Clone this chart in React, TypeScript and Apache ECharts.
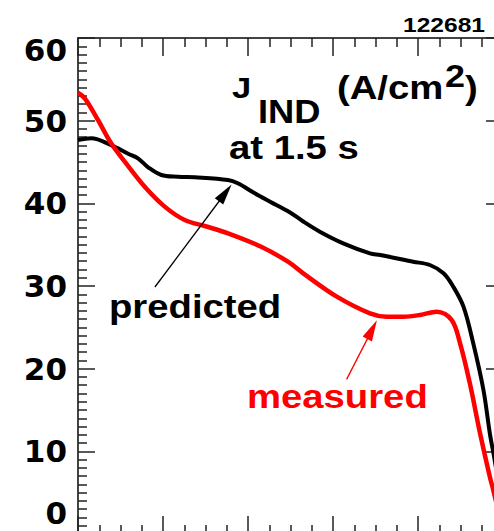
import React, { useEffect, useRef } from "react";
import * as echarts from "echarts";

// normalized radius (x) and current density J_IND (A/cm^2)
const rhoPredicted = [0.0, 0.031, 0.078, 0.118, 0.141, 0.165, 0.196, 0.235, 0.275, 0.353, 0.376, 0.416, 0.452, 0.499, 0.53, 0.569, 0.624, 0.687, 0.711, 0.789, 0.828, 0.86, 0.883, 0.907, 0.93, 0.954, 0.969, 0.979, 1.0];
const jPredicted = [47.66, 47.87, 47.05, 46.0, 45.45, 44.36, 43.43, 43.22, 43.15, 42.82, 42.42, 41.21, 40.2, 38.9, 37.8, 36.57, 35.16, 33.95, 33.75, 32.94, 32.54, 31.54, 29.92, 27.5, 23.07, 17.42, 12.18, 9.35, 2.9];

const rhoMeasured = [0.0, 0.016, 0.047, 0.078, 0.11, 0.157, 0.204, 0.251, 0.298, 0.353, 0.431, 0.494, 0.53, 0.609, 0.687, 0.726, 0.765, 0.805, 0.844, 0.879, 0.899, 0.922, 0.946, 0.969, 0.979, 1.0];
const jMeasured = [53.38, 52.7, 50.08, 47.26, 45.04, 42.0, 39.6, 37.98, 37.26, 36.37, 34.75, 32.94, 31.53, 28.71, 26.69, 26.29, 26.29, 26.5, 26.9, 25.9, 23.07, 18.23, 12.18, 6.93, 4.92, 0.3];

// arrow annotations (data coordinates: start, head centre)
const predictedArrow = [[0.181, 29.88], [0.3466, 41.25]];
const measuredArrow = [[0.632, 18.71], [0.692, 24.72]];

const yTicks = { min: 0, max: 60, interval: 10 };
const xTicks = { min: 0, max: 1, interval: 0.2 };

const shotNumber = "122681";

const zip = (xs: number[], ys: number[]) => xs.map((x, i) => [x, ys[i]]);

const AXIS_COLOR = "#444";
const TICK_COLOR = "#222";
const FONT = "Liberation Sans";
// slender arrow head (tip up), padded to a square box so it is not stretched
const ARROW_HEAD = "path://M0,0 M20,20 M10,0 L15,20 L5,20 Z";

export default function App() {
  const ref = useRef<HTMLDivElement>(null);

  useEffect(() => {
    if (!ref.current) return;
    const chart = echarts.init(ref.current, null, { renderer: "svg" });

    const baseX = {
      type: "value" as const,
      min: xTicks.min,
      max: xTicks.max,
      interval: xTicks.interval,
      axisLine: { show: true, onZero: false, lineStyle: { color: AXIS_COLOR, width: 2 } },
      axisTick: { show: true, inside: true, length: 18, lineStyle: { color: TICK_COLOR, width: 1.5 } },
      minorTick: { show: true, splitNumber: 4, length: 9, lineStyle: { color: TICK_COLOR, width: 1.5 } },
      axisLabel: { show: false },
      splitLine: { show: false },
    };
    const baseY = {
      type: "value" as const,
      min: yTicks.min,
      max: yTicks.max,
      interval: yTicks.interval,
      axisLine: { show: true, onZero: false, lineStyle: { color: AXIS_COLOR, width: 2 } },
      axisTick: { show: true, inside: true, length: 17, lineStyle: { color: TICK_COLOR, width: 1.5 } },
      minorTick: { show: true, splitNumber: 10, length: 9, lineStyle: { color: TICK_COLOR, width: 1.5 } },
      splitLine: { show: false },
    };

    const labelFont = { fontFamily: "DejaVu Sans", fontWeight: "bold" as const, fontSize: 31, color: "#000" };

    const textEl = (text: string, x: number, y: number, size: number, fill = "#000", scaleX = 1.16) => ({
      type: "text",
      x,
      y,
      scaleX,
      z: 100,
      style: {
        text,
        fontFamily: FONT,
        fontWeight: "bold",
        fontSize: size,
        fill,
        align: "left",
        verticalAlign: "middle",
      },
    });

    const arrow = (pts: number[][], color: string) => ({
      silent: true,
      animation: false,
      symbol: ["none", ARROW_HEAD],
      symbolSize: 21,
      label: { show: false },
      emphasis: { disabled: true },
      itemStyle: { color },
      lineStyle: { color, width: 1.3, type: "solid" },
      data: [[{ coord: pts[0] }, { coord: pts[1] }]],
    });

    chart.setOption({
      animation: false,
      backgroundColor: "#fff",
      grid: { left: 78, top: 38, width: 425, height: 496 },
      xAxis: [
        { ...baseX, position: "bottom" },
        { ...baseX, position: "top" },
      ],
      yAxis: [
        {
          ...baseY,
          position: "left",
          axisLabel: {
            show: true,
            margin: 11,
            ...labelFont,
            formatter: (v: number) => (v === 60 ? "{top|60}" : v === 0 ? "{bot|0}" : String(v)),
            rich: {
              top: { ...labelFont, padding: [24, 0, 0, 0] },
              bot: { ...labelFont, padding: [0, 0, 42, 0] },
            },
          },
        },
        { ...baseY, position: "right", axisLabel: { show: false } },
      ],
      series: [
        {
          name: "predicted",
          type: "line",
          xAxisIndex: 0,
          yAxisIndex: 0,
          data: zip(rhoPredicted, jPredicted),
          smooth: 0.35,
          showSymbol: false,
          symbol: "none",
          lineStyle: { color: "#000", width: 4 },
          itemStyle: { color: "#000" },
          markLine: arrow(predictedArrow, "#000"),
        },
        {
          name: "measured",
          type: "line",
          xAxisIndex: 0,
          yAxisIndex: 0,
          data: zip(rhoMeasured, jMeasured),
          smooth: 0.35,
          showSymbol: false,
          symbol: "none",
          lineStyle: { color: "#ff0000", width: 4.5 },
          itemStyle: { color: "#ff0000" },
          markLine: arrow(measuredArrow, "#ff0000"),
        },
      ],
      graphic: [
        textEl(shotNumber, 403, 24.5, 21, "#000", 1.17),
        textEl("J", 232, 87.5, 30, "#000", 1.15),
        textEl("IND", 258, 111.5, 33, "#000", 1.1),
        textEl("(A/cm", 337, 87.5, 33),
        textEl("2", 445, 76.5, 31),
        textEl(")", 465, 87.5, 33),
        textEl("at 1.5 s", 229, 148, 33),
        textEl("predicted", 109, 306.5, 33),
        textEl("measured", 247, 396.5, 33, "#ff0000"),
      ],
    });

    return () => chart.dispose();
  }, []);

  return (
    <div style={{ position: "fixed", left: 0, top: 0, width: 494, height: 531, overflow: "hidden", background: "#fff" }}>
      <div ref={ref} style={{ width: 520, height: 560 }} />
    </div>
  );
}
